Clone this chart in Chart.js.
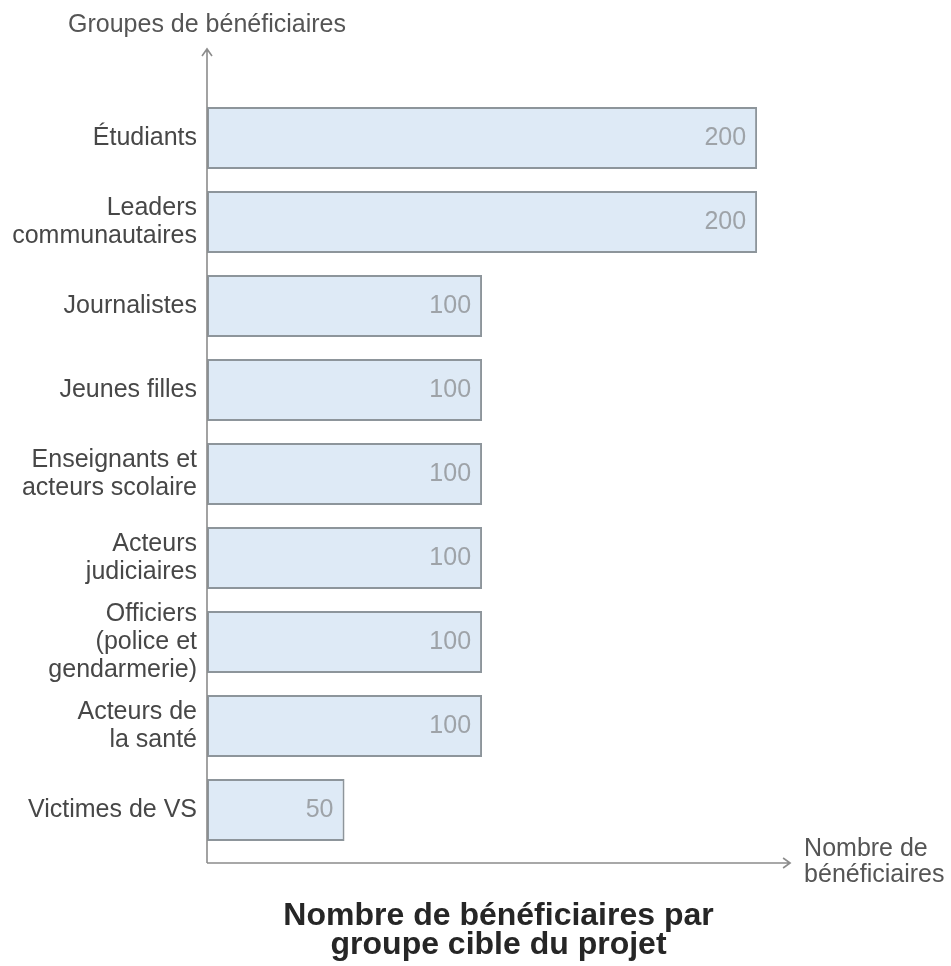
<!DOCTYPE html>
<html lang="fr">
<head>
<meta charset="utf-8">
<title>Nombre de bénéficiaires par groupe cible du projet</title>
<script src="https://cdn.jsdelivr.net/npm/chart.js@4/dist/chart.umd.min.js"></script>
<style>
  html, body { margin: 0; padding: 0; background: #ffffff; }
  #wrap { position: relative; width: 951px; height: 966px; }
</style>
</head>
<body>
<div id="wrap"><canvas id="chart"></canvas></div>
<script>
// ---- Data ----
const categories = [
  ['Étudiants'],
  ['Leaders', 'communautaires'],
  ['Journalistes'],
  ['Jeunes filles'],
  ['Enseignants et', 'acteurs scolaire'],
  ['Acteurs', 'judiciaires'],
  ['Officiers', '(police et', 'gendarmerie)'],
  ['Acteurs de', 'la santé'],
  ['Victimes de VS']
];
const values = [200, 200, 100, 100, 100, 100, 100, 100, 50];
const yAxisTitle = 'Groupes de bénéficiaires';
const xAxisTitle = ['Nombre de', 'bénéficiaires'];
const chartTitle = ['Nombre de bénéficiaires par', 'groupe cible du projet'];

// ---- Style ----
const FONT = "'Liberation Sans', Arial, Helvetica, sans-serif";
Chart.defaults.font.family = FONT;
const AXIS_COLOR = '#8c8c8c';

const decorPlugin = {
  id: 'decor',
  afterDatasetsDraw(chart) {
    const ctx = chart.ctx;
    const area = chart.chartArea;
    const meta = chart.getDatasetMeta(0);
    // value labels inside bar ends
    ctx.save();
    ctx.font = '25px ' + FONT;
    ctx.fillStyle = '#9ea3a8';
    ctx.textAlign = 'right';
    ctx.textBaseline = 'middle';
    meta.data.forEach((bar, i) => {
      ctx.fillText(String(values[i]), bar.x - 11, bar.y);
    });
    ctx.restore();

    // axes with arrows
    const x0 = area.left;
    const yBase = area.bottom + 11;
    const yTop = area.top - 47;
    const xEnd = chart.scales.x.getPixelForValue(212);
    ctx.save();
    ctx.strokeStyle = AXIS_COLOR;
    ctx.lineWidth = 1.6;
    ctx.beginPath();
    ctx.moveTo(x0, yBase);
    ctx.lineTo(x0, yTop);
    ctx.moveTo(x0 - 5, yTop + 7);
    ctx.lineTo(x0, yTop);
    ctx.lineTo(x0 + 5, yTop + 7);
    ctx.moveTo(x0, yBase);
    ctx.lineTo(xEnd, yBase);
    ctx.moveTo(xEnd - 7, yBase - 5);
    ctx.lineTo(xEnd, yBase);
    ctx.lineTo(xEnd - 7, yBase + 5);
    ctx.stroke();

    // axis titles
    ctx.fillStyle = '#555555';
    ctx.font = '25px ' + FONT;
    ctx.textBaseline = 'alphabetic';
    ctx.textAlign = 'center';
    ctx.fillText(yAxisTitle, x0, 32);
    ctx.textAlign = 'left';
    xAxisTitle.forEach((t, i) => ctx.fillText(t, xEnd + 14, yBase - 7 + i * 26));

    // chart title (below the plot, centred on the x axis)
    ctx.fillStyle = '#262626';
    ctx.font = 'bold 32px ' + FONT;
    ctx.textAlign = 'center';
    const cx = (x0 + xEnd) / 2;
    chartTitle.forEach((t, i) => ctx.fillText(t, cx, yBase + 62 + i * 29));
    ctx.restore();
  }
};

new Chart(document.getElementById('chart'), {
  type: 'bar',
  data: {
    labels: categories,
    datasets: [{
      data: values,
      backgroundColor: '#deeaf6',
      borderColor: '#8d959b',
      borderWidth: 2,
      borderSkipped: false,
      barPercentage: 0.74,
      categoryPercentage: 1.0
    }]
  },
  options: {
    indexAxis: 'y',
    responsive: true,
    maintainAspectRatio: false,
    animation: false,
    layout: { padding: { top: 96, left: 10, right: 0, bottom: 114 } },
    plugins: {
      legend: { display: false },
      tooltip: { enabled: false },
      title: { display: false }
    },
    scales: {
      x: {
        display: false,
        min: 0,
        max: 270.5
      },
      y: {
        type: 'category',
        offset: true,
        grid: { display: false, drawTicks: false },
        border: { display: false },
        ticks: {
          autoSkip: false,
          padding: 10,
          color: '#474747',
          font: { family: FONT, size: 25, lineHeight: 1.12 }
        },
        afterFit(scale) { scale.width = 197; }
      }
    }
  },
  plugins: [decorPlugin]
});
</script>
</body>
</html>
